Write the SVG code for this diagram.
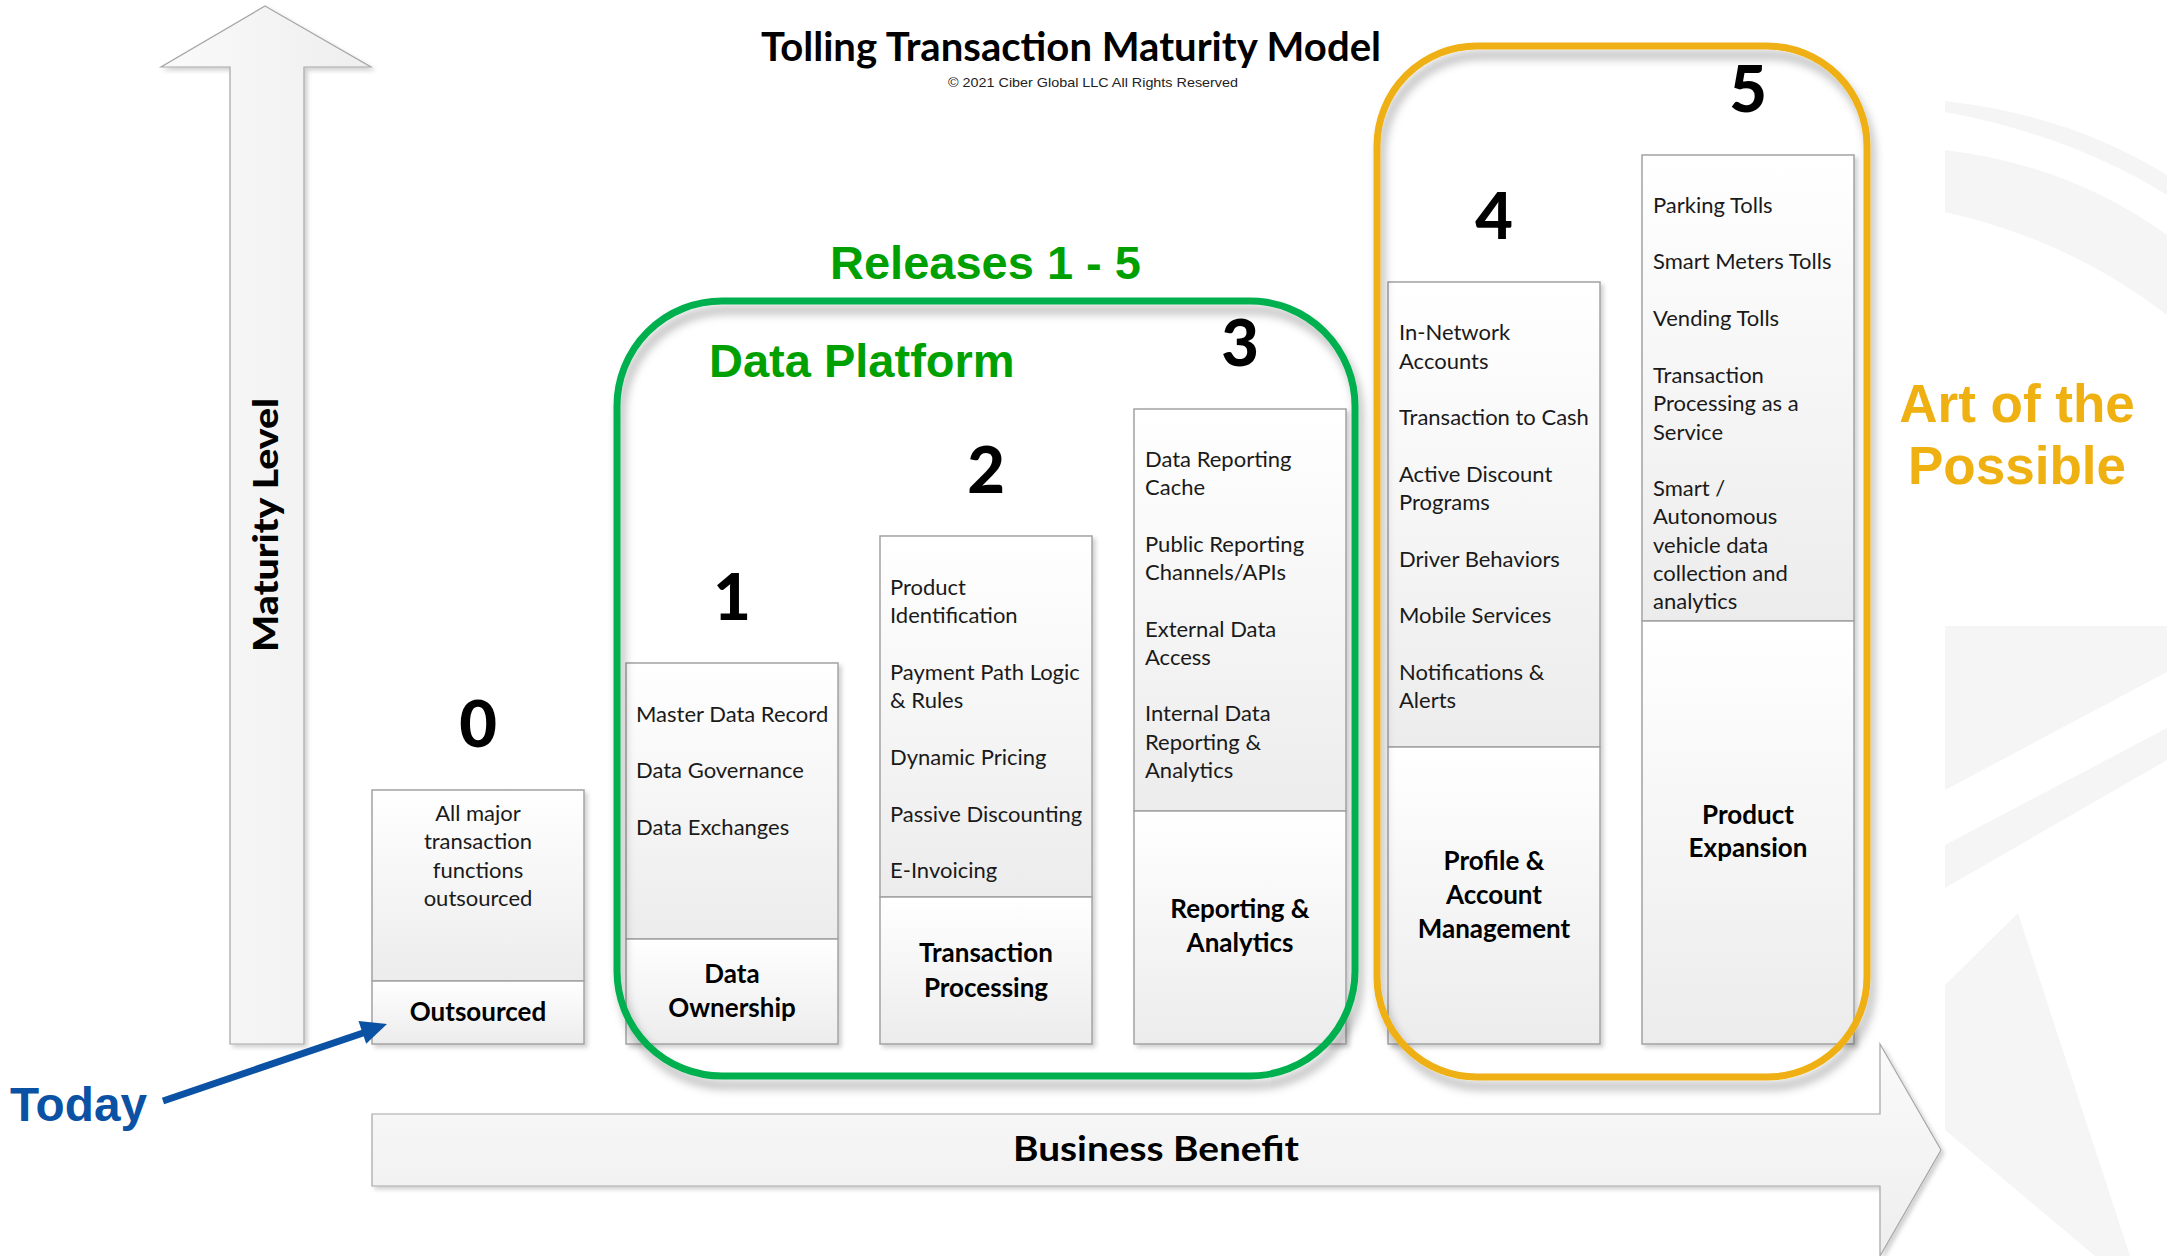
<svg xmlns="http://www.w3.org/2000/svg" width="2167" height="1256" viewBox="0 0 2167 1256">
<defs>
<linearGradient id="gBox" x1="0" y1="0" x2="0" y2="1"><stop offset="0" stop-color="#FFFFFF"/><stop offset="1" stop-color="#ECECEC"/></linearGradient>
<linearGradient id="gArrV" x1="0" y1="0" x2="1" y2="0"><stop offset="0" stop-color="#FAFAFA"/><stop offset="1" stop-color="#EEEEEE"/></linearGradient>
<linearGradient id="gArrH" x1="0" y1="0" x2="0" y2="1"><stop offset="0" stop-color="#FAFAFA"/><stop offset="1" stop-color="#EEEEEE"/></linearGradient>
<filter id="shBox" x="-10%" y="-10%" width="130%" height="130%"><feDropShadow dx="3" dy="3" stdDeviation="2" flood-color="#000" flood-opacity="0.18"/></filter>
<filter id="shRing" x="-10%" y="-10%" width="130%" height="130%"><feDropShadow dx="4" dy="9" stdDeviation="5" flood-color="#000" flood-opacity="0.3"/></filter>
</defs>
<style>
.box{fill:url(#gBox);stroke:#A3A3A3;stroke-width:1.5}
.item{font-family:Lato,"Liberation Sans",sans-serif;font-size:22px;fill:#1a1a1a}
.itemc{font-family:Lato,"Liberation Sans",sans-serif;font-size:22px;fill:#1a1a1a;text-anchor:middle}
.lbl{font-family:Lato,"Liberation Sans",sans-serif;font-size:26px;font-weight:bold;fill:#000;text-anchor:middle}
.num{font-family:Lato,"Liberation Sans",sans-serif;font-size:65px;font-weight:900;fill:#000;text-anchor:middle}
.arr{stroke:#A6A6A6;stroke-width:1.2}
.green{font-family:"Liberation Sans",Arial,sans-serif;font-weight:bold;font-size:47px;fill:#00A000}
.gold{font-family:"Liberation Sans",Arial,sans-serif;font-weight:bold;font-size:53px;fill:#EFB012;text-anchor:middle}
</style>
<rect width="2167" height="1256" fill="#FFFFFF"/>
<g id="watermark" fill="#F5F5F5">
<path d="M1945,101 Q2070,115 2167,175 L2167,195 Q2070,135 1945,112 Z"/>
<path d="M1945,150 Q2070,165 2167,235 L2167,315 Q2070,240 1945,212 Z"/>
<polygon points="1945,626 2167,626 2167,672 1945,790"/>
<polygon points="1945,845 2167,728 2167,760 1945,888"/>
<polygon points="1945,985 2018,913 2130,1256 2095,1256 1945,1130"/>
</g>
<g id="axis-vertical">
<polygon class="arr" fill="url(#gArrV)" points="265,6 371,67 304,67 304,1044 230,1044 230,67 161,67" filter="url(#shBox)"/>
<text transform="translate(278,525) rotate(-90)" text-anchor="middle" font-family="Lato,'Liberation Sans',sans-serif" font-weight="900" font-size="34" textLength="254" lengthAdjust="spacingAndGlyphs">Maturity Level</text>
</g>
<g id="axis-horizontal">
<polygon class="arr" fill="url(#gArrH)" points="372,1114 1880,1114 1880,1044 1941,1150 1880,1256 1880,1186 372,1186" filter="url(#shBox)"/>
<text x="1156" y="1161" text-anchor="middle" font-family="Lato,'Liberation Sans',sans-serif" font-weight="bold" font-size="35" textLength="286" lengthAdjust="spacingAndGlyphs">Business Benefit</text>
</g>
<g id="title">
<text x="1071" y="61" text-anchor="middle" font-family="Lato,'Liberation Sans',sans-serif" font-weight="bold" font-size="40" textLength="620" lengthAdjust="spacingAndGlyphs">Tolling Transaction Maturity Model</text>
<text x="1093" y="87" text-anchor="middle" font-family="'Liberation Sans',Arial,sans-serif" font-size="13.5" fill="#222" textLength="290" lengthAdjust="spacingAndGlyphs">© 2021 Ciber Global LLC  All Rights Reserved</text>
</g>
<g id="col0" filter="url(#shBox)">
<rect class="box" x="372" y="790" width="212" height="191"/>
<rect class="box" x="372" y="981" width="212" height="63"/>
</g>
<g id="col0-text">
<text class="num" x="478" y="747">0</text>
<text class="itemc" x="478" y="821">All major</text>
<text class="itemc" x="478" y="849">transaction</text>
<text class="itemc" x="478" y="878">functions</text>
<text class="itemc" x="478" y="906">outsourced</text>
<text class="lbl" x="478" y="1021">Outsourced</text>
</g>
<g id="col1" filter="url(#shBox)">
<rect class="box" x="626" y="663" width="212" height="276"/>
<rect class="box" x="626" y="939" width="212" height="105"/>
</g>
<g id="col1-text">
<text class="num" x="732" y="620">1</text>
<text class="item" x="636" y="722">Master Data Record</text>
<text class="item" x="636" y="778">Data Governance</text>
<text class="item" x="636" y="835">Data Exchanges</text>
<text class="lbl" x="732" y="983">Data</text>
<text class="lbl" x="732" y="1017">Ownership</text>
</g>
<g id="col2" filter="url(#shBox)">
<rect class="box" x="880" y="536" width="212" height="361"/>
<rect class="box" x="880" y="897" width="212" height="147"/>
</g>
<g id="col2-text">
<text class="num" x="986" y="493">2</text>
<text class="item" x="890" y="595">Product</text>
<text class="item" x="890" y="623">Identification</text>
<text class="item" x="890" y="680">Payment Path Logic</text>
<text class="item" x="890" y="708">&amp; Rules</text>
<text class="item" x="890" y="765">Dynamic Pricing</text>
<text class="item" x="890" y="822">Passive Discounting</text>
<text class="item" x="890" y="878">E-Invoicing</text>
<text class="lbl" x="986" y="962">Transaction</text>
<text class="lbl" x="986" y="997">Processing</text>
</g>
<g id="col3" filter="url(#shBox)">
<rect class="box" x="1134" y="409" width="212" height="402"/>
<rect class="box" x="1134" y="811" width="212" height="233"/>
</g>
<g id="col3-text">
<text class="num" x="1240" y="366">3</text>
<text class="item" x="1145" y="467">Data Reporting</text>
<text class="item" x="1145" y="495">Cache</text>
<text class="item" x="1145" y="552">Public Reporting</text>
<text class="item" x="1145" y="580">Channels/APIs</text>
<text class="item" x="1145" y="637">External Data</text>
<text class="item" x="1145" y="665">Access</text>
<text class="item" x="1145" y="721">Internal Data</text>
<text class="item" x="1145" y="750">Reporting &amp;</text>
<text class="item" x="1145" y="778">Analytics</text>
<text class="lbl" x="1240" y="918">Reporting &amp;</text>
<text class="lbl" x="1240" y="952">Analytics</text>
</g>
<g id="col4" filter="url(#shBox)">
<rect class="box" x="1388" y="282" width="212" height="465"/>
<rect class="box" x="1388" y="747" width="212" height="297"/>
</g>
<g id="col4-text">
<text class="num" x="1494" y="239">4</text>
<text class="item" x="1399" y="340">In-Network</text>
<text class="item" x="1399" y="369">Accounts</text>
<text class="item" x="1399" y="425">Transaction to Cash</text>
<text class="item" x="1399" y="482">Active Discount</text>
<text class="item" x="1399" y="510">Programs</text>
<text class="item" x="1399" y="567">Driver Behaviors</text>
<text class="item" x="1399" y="623">Mobile Services</text>
<text class="item" x="1399" y="680">Notifications &amp;</text>
<text class="item" x="1399" y="708">Alerts</text>
<text class="lbl" x="1494" y="870">Profile &amp;</text>
<text class="lbl" x="1494" y="904">Account</text>
<text class="lbl" x="1494" y="938">Management</text>
</g>
<g id="col5" filter="url(#shBox)">
<rect class="box" x="1642" y="155" width="212" height="466"/>
<rect class="box" x="1642" y="621" width="212" height="423"/>
</g>
<g id="col5-text">
<text class="num" x="1748" y="112">5</text>
<text class="item" x="1653" y="213">Parking Tolls</text>
<text class="item" x="1653" y="269">Smart Meters Tolls</text>
<text class="item" x="1653" y="326">Vending Tolls</text>
<text class="item" x="1653" y="383">Transaction</text>
<text class="item" x="1653" y="411">Processing as a</text>
<text class="item" x="1653" y="440">Service</text>
<text class="item" x="1653" y="496">Smart /</text>
<text class="item" x="1653" y="524">Autonomous</text>
<text class="item" x="1653" y="553">vehicle data</text>
<text class="item" x="1653" y="581">collection and</text>
<text class="item" x="1653" y="609">analytics</text>
<text class="lbl" x="1748" y="824">Product</text>
<text class="lbl" x="1748" y="857">Expansion</text>
</g>
<g id="data-platform">
<rect x="617" y="301" width="738" height="775" rx="105" ry="105" fill="none" stroke="#00B050" stroke-width="7" filter="url(#shRing)"/>
<text class="green" x="830" y="279">Releases 1 - 5</text>
<text class="green" x="709" y="377">Data Platform</text>
</g>
<g id="art-of-possible">
<rect x="1377" y="46" width="490" height="1031" rx="100" ry="100" fill="none" stroke="#EFB012" stroke-width="7" filter="url(#shRing)"/>
<text class="gold" x="2017" y="422">Art of the</text>
<text class="gold" x="2017" y="484">Possible</text>
</g>
<g id="connectors">
<line x1="163" y1="1101" x2="366" y2="1032" stroke="#0B52A4" stroke-width="7"/>
<polygon points="387,1024 366.2,1043.7 358.5,1020.9" fill="#0B52A4"/>
</g>
<g id="today">
<text x="10" y="1121" font-family="'Liberation Sans',Arial,sans-serif" font-weight="bold" font-size="48" fill="#0B52A4" textLength="137" lengthAdjust="spacingAndGlyphs">Today</text>
</g>
</svg>
